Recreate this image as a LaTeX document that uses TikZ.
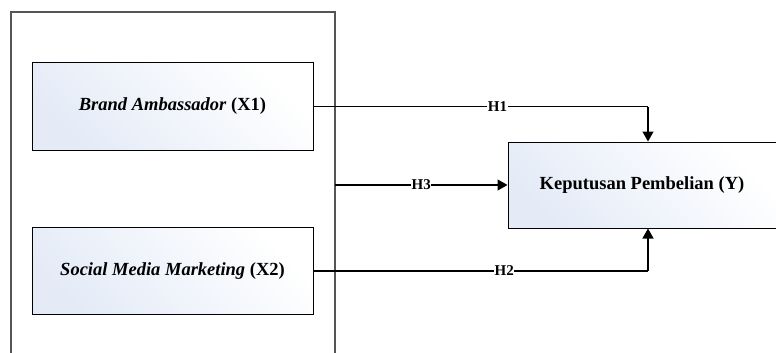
\documentclass[tikz,border=0pt]{standalone}
\usepackage{fontspec}
\setmainfont{Liberation Serif}
\usetikzlibrary{arrows.meta}
\definecolor{shadeblue}{RGB}{228,235,247}
\definecolor{framegray}{RGB}{85,85,85}
\tikzset{
  varbox/.style={draw=black, line width=1pt, left color=shadeblue, right color=white, shading angle=135, minimum width=281pt, minimum height=87pt, inner sep=0pt, font=\fontsize{18.5}{21}\selectfont\bfseries},
  conn/.style={draw=black, line width=1.2pt},
  arr/.style={conn, -{Triangle[length=10pt,width=11pt]}},
  hlabel/.style={fill=white, inner sep=0.6pt, font=\fontsize{15}{17}\selectfont\bfseries}
}
\begin{document}
\begin{tikzpicture}[x=1pt,y=-1pt]
\useasboundingbox (0,0) rectangle (776,353);
\draw[framegray, line width=1.2pt] (11,353) -- (11,12) -- (335,12) -- (335,353);
\node[varbox] (x1) at (172.5,106.5) {\textit{Brand Ambassador} (X1)};
\node[varbox] (x2) at (172.5,271) {\textit{Social Media Marketing} (X2)};
\node[varbox, minimum width=268pt, minimum height=86pt] (y) at (642,185) {Keputusan Pembelian (Y)};
\coordinate (h3s) at (335,185);
\coordinate (c1) at (648,106.5);
\coordinate (c2) at (648,271);
\draw[conn] (x1.east) -- node[hlabel, pos=0.55] {H1} (c1);
\draw[arr] (c1) -- (c1 |- y.north);
\draw[arr] (h3s) -- node[hlabel, pos=0.5] {H3} (y.west);
\draw[conn] (x2.east) -- node[hlabel, pos=0.57] {H2} (c2);
\draw[arr] (c2) -- (c2 |- y.south);
\end{tikzpicture}
\end{document}
